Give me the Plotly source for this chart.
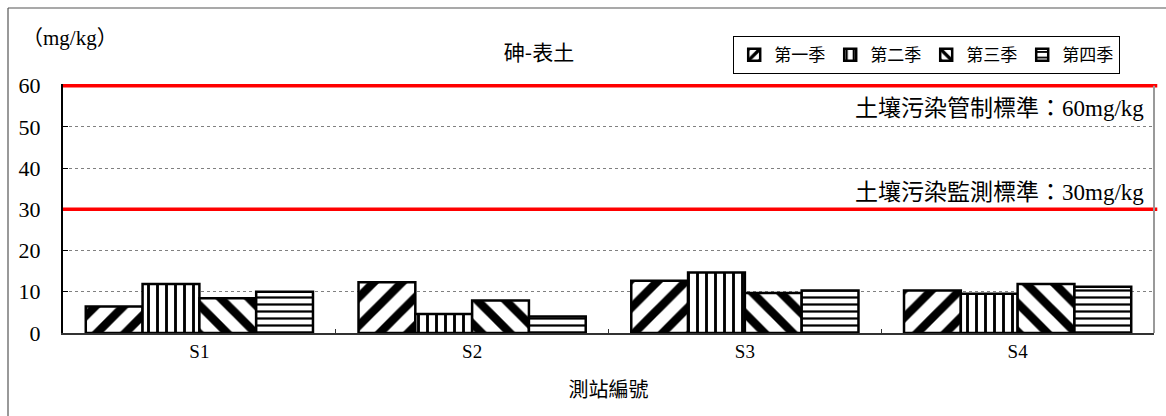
import plotly.graph_objects as go

# data
stations = ["S1", "S2", "S3", "S4"]
season_names = ["第一季", "第二季", "第三季", "第四季"]
q1 = [6.4, 12.3, 12.7, 10.3]
q2 = [11.9, 4.6, 14.7, 9.5]
q3 = [8.4, 7.9, 9.7, 11.9]
q4 = [10.0, 4.0, 10.3, 11.2]
control_std = 60
monitor_std = 30

W, H = 1166, 416
ML, MR, MT, MB = 63, 12, 84, 83
SERIF = "Liberation Serif, Noto Sans CJK TC, serif"


def px_x(p):
    return (p - ML) / (W - ML - MR)


def px_y(p):
    return (H - MB - p) / (H - MT - MB)


patterns = [
    dict(shape="/", size=20, solidity=0.42),
    dict(shape="|", size=9, solidity=0.32),
    dict(shape="\\", size=20, solidity=0.42),
    dict(shape="-", size=7, solidity=0.32),
]

fig = go.Figure()
for name, vals, pat in zip(season_names, [q1, q2, q3, q4], patterns):
    fig.add_trace(go.Bar(
        x=stations, y=vals, name=name,
        marker=dict(color="white", line=dict(color="black", width=2.5),
                    pattern=dict(fgcolor="black", bgcolor="white", fgopacity=1, **pat)),
    ))

shapes = [
    dict(type="line", xref="paper", yref="y", x0=0, x1=1.003, y0=control_std, y1=control_std,
         line=dict(color="#ff0000", width=3.5), layer="above"),
    dict(type="line", xref="paper", yref="y", x0=0, x1=1.003, y0=monitor_std, y1=monitor_std,
         line=dict(color="#ff0000", width=3.5), layer="above"),
    # right edge of plot area
    dict(type="line", xref="paper", yref="y", x0=1, x1=1, y0=0, y1=control_std,
         line=dict(color="#999999", width=2)),
    # outer chart frame (top and left only visible)
    dict(type="line", xref="paper", yref="paper", x0=px_x(8), x1=px_x(1200), y0=px_y(8), y1=px_y(8),
         line=dict(color="#555555", width=1.2)),
    dict(type="line", xref="paper", yref="paper", x0=px_x(8), x1=px_x(8), y0=px_y(8), y1=px_y(450),
         line=dict(color="#555555", width=1.2)),
]

annotations = [
    dict(text="土壤污染管制標準：60mg/kg", xref="paper", yref="paper", x=px_x(1146), y=px_y(108),
         xanchor="right", yanchor="middle", showarrow=False, font=dict(family=SERIF, size=23, color="black")),
    dict(text="土壤污染監測標準：30mg/kg", xref="paper", yref="paper", x=px_x(1146), y=px_y(192),
         xanchor="right", yanchor="middle", showarrow=False, font=dict(family=SERIF, size=23, color="black")),
    dict(text="（mg/kg）", xref="paper", yref="paper", x=px_x(20), y=px_y(38),
         xanchor="left", yanchor="middle", showarrow=False, font=dict(family=SERIF, size=21, color="black")),
]

fig.update_layout(
    width=W, height=H,
    margin=dict(l=ML, r=MR, t=MT, b=MB, autoexpand=False),
    paper_bgcolor="white", plot_bgcolor="white",
    barmode="group", bargap=0.167, bargroupgap=0,
    title=dict(text="砷-表土", x=px_x(539), xanchor="center", y=1 - 53 / H, yanchor="middle",
               xref="paper", font=dict(family="Noto Sans CJK TC", size=21, color="black")),
    legend=dict(orientation="h", x=px_x(1120), xanchor="right", y=px_y(36), yanchor="top",
                bordercolor="black", borderwidth=1.2, bgcolor="white",
                font=dict(family=SERIF, size=17, color="black"), traceorder="normal",
                itemwidth=30),
    shapes=shapes,
    annotations=annotations,
    showlegend=True,
)

fig.update_xaxes(
    showline=True, linecolor="#333333", linewidth=2, automargin=False,
    ticks="inside", ticklen=4, tickcolor="#333333", tickson="boundaries",
    tickfont=dict(family=SERIF, size=19, color="black"),
    title=dict(text="測站編號", font=dict(family=SERIF, size=20, color="black"), standoff=22),
    showgrid=False,
)
fig.update_yaxes(
    range=[0, 60.4], dtick=10, tick0=0, automargin=False,
    showline=True, linecolor="black", linewidth=2,
    ticks="inside", ticklen=5, tickcolor="black", ticklabelstandoff=16,
    tickfont=dict(family=SERIF, size=22, color="black"),
    showgrid=True, gridcolor="#808080", griddash="dot", gridwidth=1,
    zeroline=False,
)

# drop the browser's default 8px body margin so the figure sits at the page corner
fig.write_html("out.html", config={"displayModeBar": False},
               post_script="document.body.style.margin = '0';")
